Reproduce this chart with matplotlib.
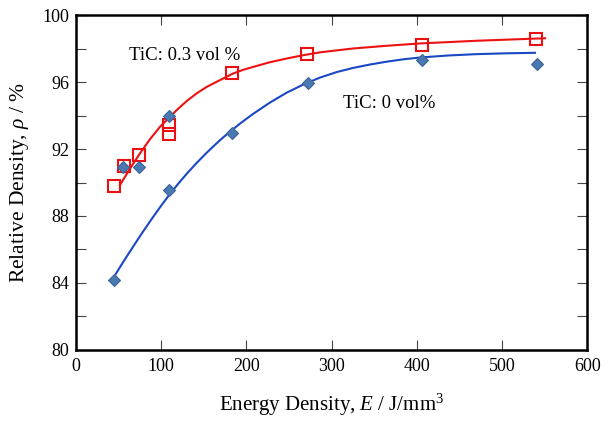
import matplotlib
matplotlib.use("Agg")
import matplotlib.pyplot as plt
from matplotlib.ticker import MultipleLocator

plt.rcParams["font.family"] = ["Liberation Serif", "DejaVu Serif"]
plt.rcParams["mathtext.fontset"] = "custom"
plt.rcParams["mathtext.it"] = "Liberation Serif:italic"
plt.rcParams["mathtext.rm"] = "Liberation Serif"

# measured points
e_tic0 = [44.6, 55.5, 74.3, 109.5, 109.5, 183.5, 272.7, 405.8, 540.7]
rho_tic0 = [84.2, 90.95, 90.9, 89.55, 93.95, 92.95, 95.95, 97.3, 97.1]
e_tic03 = [44.6, 56.3, 74.3, 108.8, 108.8, 183.5, 270.8, 405.8, 539.9]
rho_tic03 = [89.8, 91.0, 91.65, 93.45, 92.9, 96.55, 97.7, 98.2, 98.6]

# trend lines
fit0_e = [43.8, 55, 67.3, 77, 86.9, 98, 110.3, 120, 129.9, 141, 153.4, 161,
          169.0, 178.8, 193, 208.1, 228, 247.3, 267, 286.4, 306, 325.5, 345,
          364.6, 384, 403.8, 437, 470.0, 505, 538.7]
fit0_rho = [84.3, 85.22, 86.19, 86.94, 87.68, 88.48, 89.32, 89.93, 90.52, 91.14,
            91.78, 92.15, 92.53, 92.96, 93.54, 94.11, 94.79, 95.37, 95.86, 96.27,
            96.6, 96.85, 97.05, 97.22, 97.36, 97.47, 97.59, 97.67, 97.72, 97.75]
fit03_e = [51.6, 63, 75.1, 87, 98.6, 118.2, 130, 141.7, 153, 165.1, 184.7, 196,
           208.1, 227, 247.3, 266, 286.4, 325.5, 364.6, 403.8, 470.0, 550.5]
fit03_rho = [89.85, 90.8, 91.74, 92.6, 93.33, 94.33, 94.87, 95.33, 95.7, 96.02,
             96.52, 96.73, 96.91, 97.18, 97.41, 97.6, 97.78, 98.01, 98.17, 98.31,
             98.47, 98.62]

fig = plt.figure(figsize=(6.13, 4.21), dpi=100)
ax = fig.add_axes([0.124, 0.169, 0.834, 0.795])

ax.plot(fit03_e, fit03_rho, color="#ee1111", lw=1.5, zorder=2)
ax.plot(fit0_e, fit0_rho, color="#1a47c4", lw=1.5, zorder=2)
ax.plot(e_tic03, rho_tic03, ls="none", marker="s", ms=8, mfc="none",
        mec="#e81010", mew=1.5, zorder=3)
ax.plot(e_tic0, rho_tic0, ls="none", marker="D", ms=6.5, mfc="#4a78b0",
        mec="#3a6498", mew=0.8, zorder=4)

ax.text(62, 97.3, "TiC: 0.3 vol %", fontsize=13.5)
ax.text(313, 94.45, "TiC: 0 vol%", fontsize=13.5)

ax.set_xlim(0, 600)
ax.set_ylim(80, 100)
ax.xaxis.set_major_locator(MultipleLocator(100))
ax.yaxis.set_major_locator(MultipleLocator(4))
ax.yaxis.set_minor_locator(MultipleLocator(2))
ax.tick_params(which="both", direction="in", top=True, right=True,
               length=7, width=0.8, color="#444444", labelsize=13)
ax.tick_params(axis="x", pad=6)
ax.tick_params(axis="y", pad=5)
for s in ax.spines.values():
    s.set_linewidth(1.8)

ax.set_xlabel("Energy Density, $E$ / J/mm$^3$", fontsize=15, labelpad=12)
ax.set_ylabel(r"Relative Density, $\rho$ / %", fontsize=15.5, labelpad=8)

fig.savefig("out.png", dpi=100)
